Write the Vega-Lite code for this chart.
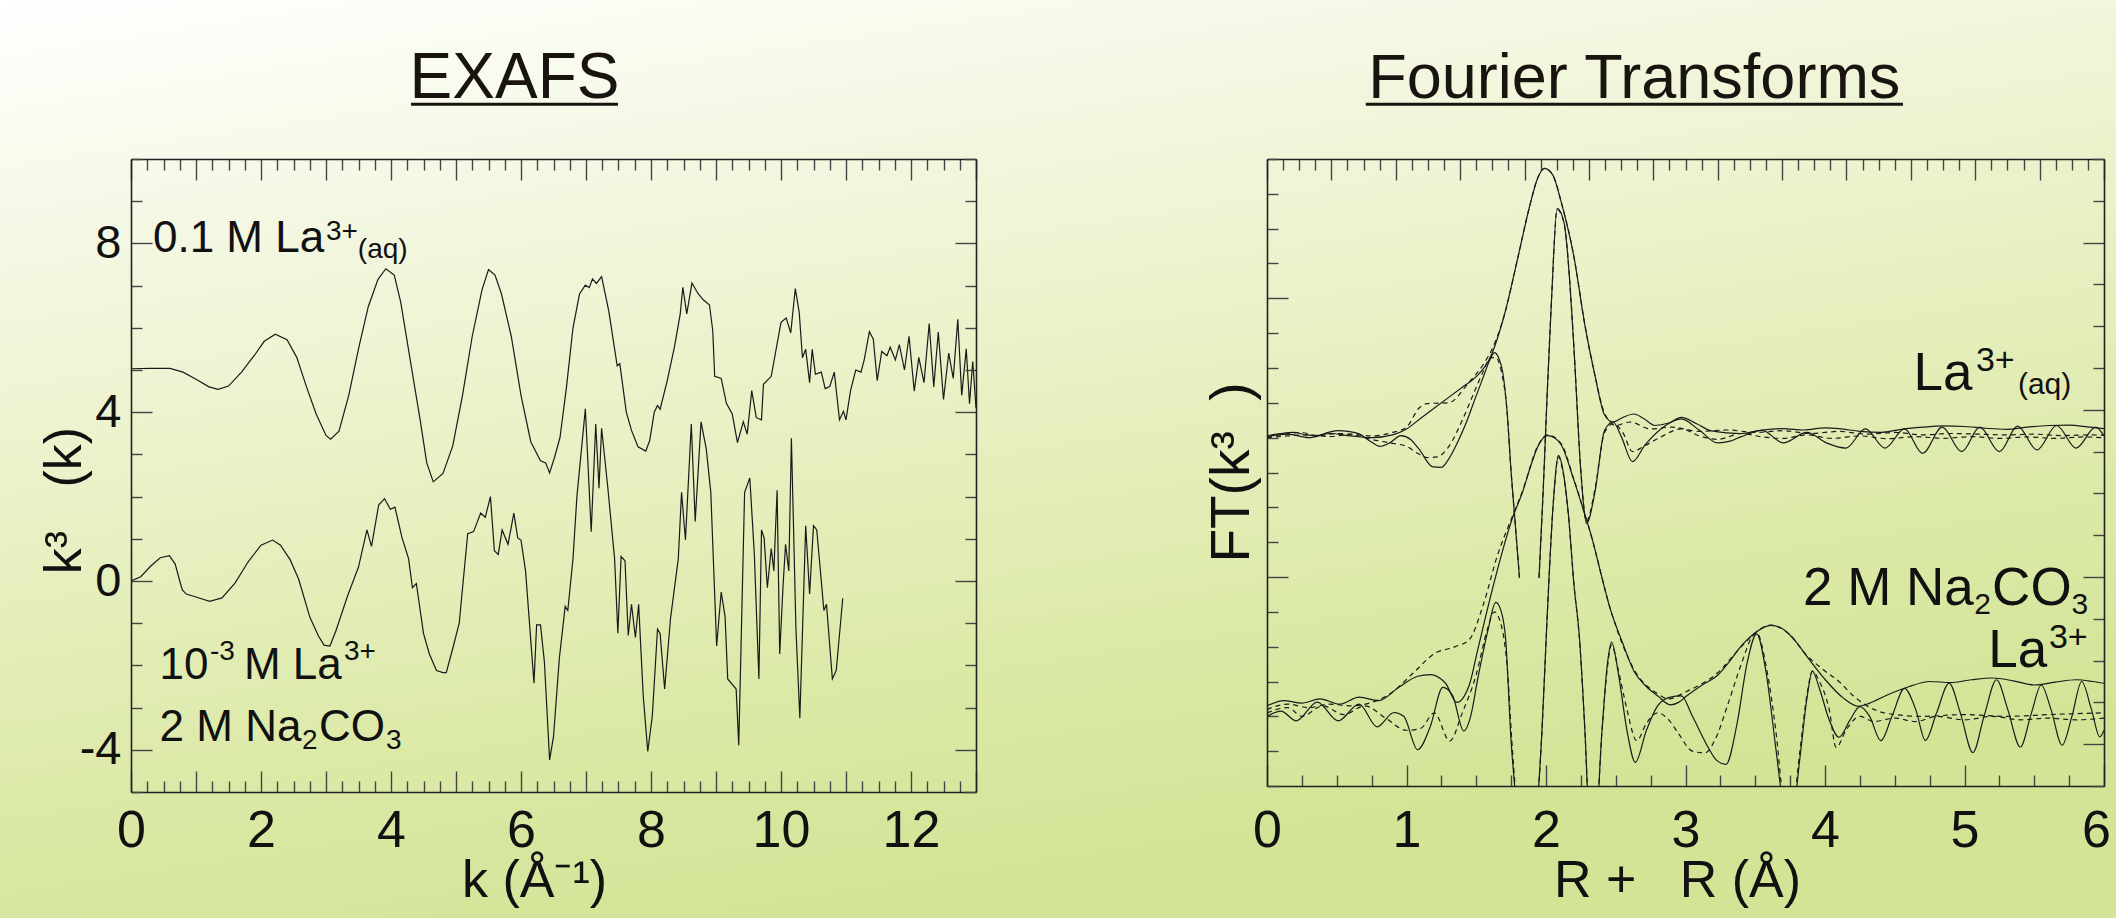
{
  "$schema": "https://vega.github.io/schema/vega-lite/v6.json",
  "padding": 0,
  "background": "#e8f0c4",
  "config": {
    "view": {"stroke": null},
    "axis": {"zindex": 2, "grid": false, "domainColor": "#222222", "domainWidth": 1.6, "tickColor": "#444444", "tickWidth": 1.4, "labelColor": "#111111", "titleColor": "#111111", "labelFont": "Liberation Sans", "titleFont": "Liberation Sans", "titleFontWeight": "normal", "labelOverlap": false, "labelFlush": false, "labelBound": false}
  },
  "datasets": {
    "xu": [
      {"k":0,"v":5.03},{"k":0.3,"v":5.04},{"k":0.6,"v":5.04},{"k":0.8,"v":4.95},{"k":1.0,"v":4.78},{"k":1.2,"v":4.6},{"k":1.34,"v":4.54},{"k":1.5,"v":4.62},{"k":1.7,"v":4.95},{"k":1.9,"v":5.35},{"k":2.05,"v":5.68},{"k":2.22,"v":5.85},{"k":2.4,"v":5.72},{"k":2.55,"v":5.3},{"k":2.7,"v":4.6},{"k":2.85,"v":3.95},{"k":3.0,"v":3.45},{"k":3.07,"v":3.36},{"k":3.2,"v":3.55},{"k":3.35,"v":4.4},{"k":3.5,"v":5.5},{"k":3.65,"v":6.5},{"k":3.8,"v":7.15},{"k":3.92,"v":7.4},{"k":4.05,"v":7.25},{"k":4.15,"v":6.6},{"k":4.3,"v":5.2},{"k":4.45,"v":3.8},{"k":4.55,"v":2.8},{"k":4.65,"v":2.35},{"k":4.8,"v":2.55},{"k":4.95,"v":3.2},{"k":5.1,"v":4.4},{"k":5.25,"v":5.8},{"k":5.4,"v":6.9},{"k":5.5,"v":7.38},{"k":5.6,"v":7.25},{"k":5.7,"v":6.8},{"k":5.85,"v":5.8},{"k":6.0,"v":4.4},{"k":6.15,"v":3.3},{"k":6.3,"v":2.85},{"k":6.38,"v":2.8},{"k":6.44,"v":2.56},{"k":6.52,"v":2.95},{"k":6.6,"v":3.4},{"k":6.7,"v":4.6},{"k":6.8,"v":6.0},{"k":6.9,"v":6.8},{"k":6.99,"v":7.01},{"k":7.05,"v":6.95},{"k":7.1,"v":7.16},{"k":7.16,"v":7.05},{"k":7.24,"v":7.21},{"k":7.35,"v":6.4},{"k":7.48,"v":5.1},{"k":7.52,"v":5.15},{"k":7.62,"v":4.0},{"k":7.7,"v":3.57},{"k":7.8,"v":3.18},{"k":7.92,"v":3.08},{"k":7.98,"v":3.33},{"k":8.05,"v":4.0},{"k":8.1,"v":4.16},{"k":8.14,"v":4.07},{"k":8.25,"v":4.75},{"k":8.36,"v":5.54},{"k":8.45,"v":6.33},{"k":8.49,"v":6.96},{"k":8.55,"v":6.33},{"k":8.63,"v":7.06},{"k":8.72,"v":6.82},{"k":8.8,"v":6.67},{"k":8.9,"v":6.54},{"k":8.95,"v":5.93},{"k":8.98,"v":4.85},{"k":9.08,"v":4.8},{"k":9.16,"v":4.21},{"k":9.25,"v":3.96},{"k":9.33,"v":3.28},{"k":9.42,"v":3.77},{"k":9.48,"v":3.48},{"k":9.55,"v":4.51},{"k":9.62,"v":3.87},{"k":9.7,"v":3.82},{"k":9.73,"v":4.66},{"k":9.85,"v":4.85},{"k":10.0,"v":6.13},{"k":10.08,"v":6.23},{"k":10.15,"v":5.88},{"k":10.22,"v":6.93},{"k":10.28,"v":6.37},{"k":10.33,"v":5.29},{"k":10.38,"v":5.49},{"k":10.44,"v":4.7},{"k":10.48,"v":5.49},{"k":10.53,"v":4.9},{"k":10.62,"v":4.95},{"k":10.68,"v":4.56},{"k":10.75,"v":4.61},{"k":10.82,"v":4.95},{"k":10.9,"v":3.82},{"k":10.96,"v":4.02},{"k":11.0,"v":3.82},{"k":11.07,"v":4.51},{"k":11.15,"v":5.0},{"k":11.23,"v":4.95},{"k":11.28,"v":5.24},{"k":11.36,"v":5.91},{"k":11.42,"v":5.73},{"k":11.48,"v":4.75},{"k":11.55,"v":5.44},{"k":11.63,"v":5.34},{"k":11.68,"v":5.54},{"k":11.76,"v":5.24},{"k":11.82,"v":5.6},{"k":11.9,"v":5.0},{"k":11.97,"v":5.8},{"k":12.05,"v":4.5},{"k":12.12,"v":5.3},{"k":12.2,"v":4.7},{"k":12.28,"v":6.1},{"k":12.35,"v":4.6},{"k":12.42,"v":5.9},{"k":12.5,"v":4.3},{"k":12.58,"v":5.4},{"k":12.65,"v":4.8},{"k":12.72,"v":6.2},{"k":12.78,"v":4.4},{"k":12.85,"v":5.5},{"k":12.9,"v":4.2},{"k":12.95,"v":5.2},{"k":13.0,"v":4.1}
    ],
    "xl": [
      {"k":0,"v":0},{"k":0.15,"v":0.1},{"k":0.3,"v":0.35},{"k":0.45,"v":0.55},{"k":0.59,"v":0.6},{"k":0.68,"v":0.4},{"k":0.75,"v":0.0},{"k":0.79,"v":-0.21},{"k":0.85,"v":-0.31},{"k":1.0,"v":-0.38},{"k":1.21,"v":-0.48},{"k":1.4,"v":-0.4},{"k":1.6,"v":-0.05},{"k":1.8,"v":0.45},{"k":2.0,"v":0.85},{"k":2.18,"v":0.97},{"k":2.3,"v":0.85},{"k":2.45,"v":0.5},{"k":2.58,"v":0.04},{"k":2.75,"v":-0.85},{"k":2.88,"v":-1.29},{"k":2.97,"v":-1.52},{"k":3.06,"v":-1.54},{"k":3.15,"v":-1.19},{"k":3.33,"v":-0.36},{"k":3.5,"v":0.33},{"k":3.63,"v":1.21},{"k":3.7,"v":0.82},{"k":3.81,"v":1.8},{"k":3.9,"v":1.95},{"k":3.99,"v":1.7},{"k":4.06,"v":1.75},{"k":4.17,"v":1.02},{"k":4.27,"v":0.53},{"k":4.33,"v":-0.16},{"k":4.39,"v":-0.06},{"k":4.5,"v":-1.24},{"k":4.59,"v":-1.73},{"k":4.7,"v":-2.12},{"k":4.8,"v":-2.17},{"k":4.85,"v":-2.17},{"k":4.96,"v":-1.54},{"k":5.05,"v":-0.99},{"k":5.18,"v":1.12},{"k":5.27,"v":1.17},{"k":5.38,"v":1.61},{"k":5.45,"v":1.51},{"k":5.53,"v":2.0},{"k":5.59,"v":0.72},{"k":5.65,"v":0.63},{"k":5.71,"v":1.21},{"k":5.8,"v":0.87},{"k":5.89,"v":1.61},{"k":5.95,"v":1.02},{"k":6.0,"v":0.97},{"k":6.07,"v":0.24},{"k":6.2,"v":-2.42},{"k":6.24,"v":-1.04},{"k":6.3,"v":-1.04},{"k":6.36,"v":-1.92},{"k":6.44,"v":-4.24},{"k":6.5,"v":-3.69},{"k":6.59,"v":-1.83},{"k":6.68,"v":-0.6},{"k":6.72,"v":-0.7},{"k":6.8,"v":0.53},{"k":6.86,"v":2.0},{"k":6.99,"v":4.08},{"k":7.08,"v":1.17},{"k":7.15,"v":3.72},{"k":7.2,"v":2.2},{"k":7.24,"v":3.62},{"k":7.33,"v":2.3},{"k":7.44,"v":0.53},{"k":7.49,"v":-1.24},{"k":7.54,"v":0.58},{"k":7.6,"v":0.48},{"k":7.65,"v":-1.29},{"k":7.7,"v":-0.55},{"k":7.76,"v":-1.34},{"k":7.81,"v":-0.55},{"k":7.88,"v":-2.71},{"k":7.95,"v":-4.04},{"k":8.02,"v":-3.2},{"k":8.1,"v":-1.14},{"k":8.14,"v":-1.24},{"k":8.21,"v":-2.56},{"k":8.3,"v":-0.89},{"k":8.42,"v":0.53},{"k":8.47,"v":2.1},{"k":8.53,"v":0.97},{"k":8.62,"v":3.72},{"k":8.68,"v":1.41},{"k":8.77,"v":3.77},{"k":8.85,"v":3.13},{"k":8.92,"v":2.1},{"k":9.01,"v":-1.54},{"k":9.08,"v":-0.26},{"k":9.14,"v":-0.85},{"k":9.18,"v":-2.32},{"k":9.31,"v":-2.56},{"k":9.35,"v":-3.89},{"k":9.44,"v":2.1},{"k":9.52,"v":2.44},{"k":9.59,"v":0.63},{"k":9.66,"v":-2.32},{"k":9.7,"v":1.21},{"k":9.74,"v":1.02},{"k":9.79,"v":-0.16},{"k":9.85,"v":0.77},{"k":9.89,"v":0.24},{"k":9.94,"v":2.15},{"k":9.98,"v":-1.73},{"k":10.03,"v":-0.16},{"k":10.07,"v":0.87},{"k":10.12,"v":0.24},{"k":10.16,"v":3.38},{"k":10.23,"v":-1.14},{"k":10.29,"v":-3.25},{"k":10.38,"v":1.31},{"k":10.44,"v":-0.31},{"k":10.5,"v":1.31},{"k":10.55,"v":1.21},{"k":10.66,"v":-0.7},{"k":10.7,"v":-0.55},{"k":10.79,"v":-2.32},{"k":10.85,"v":-2.12},{"k":10.95,"v":-0.41}
    ],
    "fus": [
      {"R":0,"y":10.03,"s":"m"},{"R":0.15,"y":10.1,"s":"m"},{"R":0.3,"y":10.0,"s":"m"},{"R":0.45,"y":10.12,"s":"m"},{"R":0.6,"y":10.05,"s":"m"},{"R":0.75,"y":10.0,"s":"m"},{"R":0.9,"y":10.08,"s":"m"},{"R":1.0,"y":10.25,"s":"m"},{"R":1.1,"y":10.55,"s":"m"},{"R":1.2,"y":10.85,"s":"m"},{"R":1.3,"y":11.15,"s":"m"},{"R":1.4,"y":11.45,"s":"m"},{"R":1.5,"y":11.75,"s":"m"},{"R":1.6,"y":12.3,"s":"m"},{"R":1.7,"y":13.5,"s":"m"},{"R":1.8,"y":15.2,"s":"m"},{"R":1.88,"y":16.6,"s":"m"},{"R":1.94,"y":17.45,"s":"m"},{"R":1.99,"y":17.73,"s":"m"},{"R":2.05,"y":17.53,"s":"m"},{"R":2.11,"y":16.75,"s":"m"},{"R":2.2,"y":15.2,"s":"m"},{"R":2.28,"y":13.2,"s":"m"},{"R":2.35,"y":11.8,"s":"m"},{"R":2.42,"y":10.65,"s":"m"},{"R":2.48,"y":10.45,"s":"m"},{"R":2.55,"y":10.58,"s":"m"},{"R":2.63,"y":10.68,"s":"m"},{"R":2.7,"y":10.55,"s":"m"},{"R":2.78,"y":10.35,"s":"m"},{"R":2.88,"y":10.42,"s":"m"},{"R":2.97,"y":10.58,"s":"m"},{"R":3.08,"y":10.4,"s":"m"},{"R":3.18,"y":10.2,"s":"m"},{"R":3.3,"y":10.14,"s":"m"},{"R":3.4,"y":10.12,"s":"m"},{"R":3.55,"y":10.22,"s":"m"},{"R":3.7,"y":10.26,"s":"m"},{"R":3.85,"y":10.22,"s":"m"},{"R":4.0,"y":10.28,"s":"m"},{"R":4.1,"y":10.26,"s":"m"},{"R":4.25,"y":10.18,"s":"m"},{"R":4.4,"y":10.15,"s":"m"},{"R":4.55,"y":10.24,"s":"m"},{"R":4.7,"y":10.3,"s":"m"},{"R":4.85,"y":10.34,"s":"m"},{"R":5.0,"y":10.32,"s":"m"},{"R":5.15,"y":10.27,"s":"m"},{"R":5.3,"y":10.24,"s":"m"},{"R":5.45,"y":10.3,"s":"m"},{"R":5.6,"y":10.35,"s":"m"},{"R":5.75,"y":10.36,"s":"m"},{"R":5.9,"y":10.3,"s":"m"},{"R":6.0,"y":10.26,"s":"m"},
      {"R":0,"y":10.06,"s":"ia"},{"R":0.1,"y":10.12,"s":"ia"},{"R":0.19,"y":10.15,"s":"ia"},{"R":0.28,"y":10.08,"s":"ia"},{"R":0.36,"y":10.06,"s":"ia"},{"R":0.44,"y":10.15,"s":"ia"},{"R":0.51,"y":10.2,"s":"ia"},{"R":0.58,"y":10.18,"s":"ia"},{"R":0.66,"y":10.11,"s":"ia"},{"R":0.74,"y":9.9,"s":"ia"},{"R":0.81,"y":9.75,"s":"ia"},{"R":0.88,"y":9.85,"s":"ia"},{"R":0.96,"y":10.06,"s":"ia"},{"R":1.03,"y":9.95,"s":"ia"},{"R":1.09,"y":9.67,"s":"ia"},{"R":1.19,"y":9.16,"s":"ia"},{"R":1.25,"y":9.15,"s":"ia"},{"R":1.3,"y":9.37,"s":"ia"},{"R":1.37,"y":9.9,"s":"ia"},{"R":1.43,"y":10.45,"s":"ia"},{"R":1.49,"y":11.1,"s":"ia"},{"R":1.54,"y":11.63,"s":"ia"},{"R":1.6,"y":12.25,"s":"ia"},{"R":1.63,"y":12.44,"s":"ia"},{"R":1.66,"y":12.3,"s":"ia"},{"R":1.69,"y":11.87,"s":"ia"},{"R":1.72,"y":10.8,"s":"ia"},{"R":1.75,"y":9.01,"s":"ia"},{"R":1.78,"y":7.5,"s":"ia"},{"R":1.81,"y":5.98,"s":"ia"},
      {"R":1.95,"y":5.98,"s":"ib"},{"R":1.98,"y":8.5,"s":"ib"},{"R":2.01,"y":11.4,"s":"ib"},{"R":2.04,"y":14.0,"s":"ib"},{"R":2.08,"y":16.58,"s":"ib"},{"R":2.13,"y":16.16,"s":"ib"},{"R":2.17,"y":14.5,"s":"ib"},{"R":2.2,"y":12.59,"s":"ib"},{"R":2.25,"y":9.01,"s":"ib"},{"R":2.29,"y":7.53,"s":"ib"},{"R":2.35,"y":8.42,"s":"ib"},{"R":2.42,"y":10.21,"s":"ib"},{"R":2.48,"y":10.45,"s":"ib"},{"R":2.54,"y":10.03,"s":"ib"},{"R":2.62,"y":9.31,"s":"ib"},{"R":2.71,"y":9.79,"s":"ib"},{"R":2.85,"y":10.33,"s":"ib"},{"R":2.97,"y":10.54,"s":"ib"},{"R":3.1,"y":10.21,"s":"ib"},{"R":3.23,"y":9.85,"s":"ib"},{"R":3.32,"y":9.9,"s":"ib"},{"R":3.4,"y":10.03,"s":"ib"},{"R":3.55,"y":10.21,"s":"ib"},{"R":3.7,"y":9.85,"s":"ib"},{"R":3.87,"y":10.15,"s":"ib"},{"R":4.01,"y":9.85,"s":"ib"},{"R":4.15,"y":9.7,"s":"ib"},{"R":4.29,"y":10.25,"s":"ib"},{"R":4.43,"y":9.7,"s":"ib"},{"R":4.57,"y":10.25,"s":"ib"},{"R":4.7,"y":9.55,"s":"ib"},{"R":4.84,"y":10.3,"s":"ib"},{"R":4.98,"y":9.6,"s":"ib"},{"R":5.11,"y":10.3,"s":"ib"},{"R":5.25,"y":9.6,"s":"ib"},{"R":5.38,"y":10.33,"s":"ib"},{"R":5.52,"y":9.65,"s":"ib"},{"R":5.66,"y":10.35,"s":"ib"},{"R":5.8,"y":9.7,"s":"ib"},{"R":5.94,"y":10.3,"s":"ib"},{"R":6.0,"y":10.05,"s":"ib"}
    ],
    "fud": [
      {"R":0,"y":10.0,"s":"mf"},{"R":0.15,"y":10.05,"s":"mf"},{"R":0.3,"y":10.08,"s":"mf"},{"R":0.45,"y":10.03,"s":"mf"},{"R":0.6,"y":10.1,"s":"mf"},{"R":0.75,"y":10.05,"s":"mf"},{"R":0.9,"y":10.15,"s":"mf"},{"R":1.0,"y":10.3,"s":"mf"},{"R":1.09,"y":10.85,"s":"mf"},{"R":1.15,"y":10.98,"s":"mf"},{"R":1.3,"y":11.0,"s":"mf"},{"R":1.45,"y":11.6,"s":"mf"},{"R":1.55,"y":12.1,"s":"mf"},{"R":1.62,"y":12.6,"s":"mf"},{"R":1.7,"y":13.5,"s":"mf"},{"R":1.8,"y":15.2,"s":"mf"},{"R":1.88,"y":16.6,"s":"mf"},{"R":1.94,"y":17.45,"s":"mf"},{"R":1.99,"y":17.73,"s":"mf"},{"R":2.05,"y":17.53,"s":"mf"},{"R":2.11,"y":16.75,"s":"mf"},{"R":2.2,"y":15.2,"s":"mf"},{"R":2.28,"y":13.2,"s":"mf"},{"R":2.35,"y":11.8,"s":"mf"},{"R":2.42,"y":10.7,"s":"mf"},{"R":2.5,"y":10.35,"s":"mf"},{"R":2.6,"y":10.45,"s":"mf"},{"R":2.75,"y":10.25,"s":"mf"},{"R":2.9,"y":10.3,"s":"mf"},{"R":3.1,"y":10.18,"s":"mf"},{"R":3.3,"y":10.22,"s":"mf"},{"R":3.5,"y":10.15,"s":"mf"},{"R":3.7,"y":10.2,"s":"mf"},{"R":3.9,"y":10.12,"s":"mf"},{"R":4.1,"y":10.18,"s":"mf"},{"R":4.3,"y":10.1,"s":"mf"},{"R":4.5,"y":10.15,"s":"mf"},{"R":4.7,"y":10.08,"s":"mf"},{"R":4.9,"y":10.12,"s":"mf"},{"R":5.1,"y":10.1,"s":"mf"},{"R":5.3,"y":10.08,"s":"mf"},{"R":5.5,"y":10.1,"s":"mf"},{"R":5.7,"y":10.06,"s":"mf"},{"R":5.9,"y":10.08,"s":"mf"},{"R":6.0,"y":10.07,"s":"mf"},
      {"R":0,"y":10.02,"s":"fa"},{"R":0.12,"y":10.1,"s":"fa"},{"R":0.25,"y":10.15,"s":"fa"},{"R":0.35,"y":10.05,"s":"fa"},{"R":0.5,"y":10.12,"s":"fa"},{"R":0.62,"y":10.08,"s":"fa"},{"R":0.75,"y":9.95,"s":"fa"},{"R":0.88,"y":9.85,"s":"fa"},{"R":1.0,"y":9.75,"s":"fa"},{"R":1.08,"y":9.55,"s":"fa"},{"R":1.15,"y":9.43,"s":"fa"},{"R":1.22,"y":9.45,"s":"fa"},{"R":1.3,"y":9.73,"s":"fa"},{"R":1.4,"y":10.5,"s":"fa"},{"R":1.47,"y":11.16,"s":"fa"},{"R":1.55,"y":11.9,"s":"fa"},{"R":1.6,"y":12.29,"s":"fa"},{"R":1.64,"y":12.3,"s":"fa"},{"R":1.68,"y":11.9,"s":"fa"},{"R":1.72,"y":10.8,"s":"fa"},{"R":1.75,"y":9.01,"s":"fa"},{"R":1.78,"y":7.5,"s":"fa"},{"R":1.81,"y":5.98,"s":"fa"},
      {"R":1.95,"y":5.98,"s":"fb"},{"R":1.98,"y":8.5,"s":"fb"},{"R":2.01,"y":11.4,"s":"fb"},{"R":2.04,"y":14.0,"s":"fb"},{"R":2.08,"y":16.55,"s":"fb"},{"R":2.13,"y":16.15,"s":"fb"},{"R":2.17,"y":14.5,"s":"fb"},{"R":2.2,"y":12.6,"s":"fb"},{"R":2.25,"y":9.05,"s":"fb"},{"R":2.29,"y":7.6,"s":"fb"},{"R":2.35,"y":8.5,"s":"fb"},{"R":2.42,"y":10.15,"s":"fb"},{"R":2.48,"y":10.4,"s":"fb"},{"R":2.55,"y":10.15,"s":"fb"},{"R":2.62,"y":9.6,"s":"fb"},{"R":2.7,"y":9.75,"s":"fb"},{"R":2.8,"y":9.97,"s":"fb"},{"R":2.97,"y":10.25,"s":"fb"},{"R":3.1,"y":10.05,"s":"fb"},{"R":3.23,"y":9.95,"s":"fb"},{"R":3.4,"y":10.12,"s":"fb"},{"R":3.55,"y":10.02,"s":"fb"},{"R":3.7,"y":9.98,"s":"fb"},{"R":3.87,"y":10.08,"s":"fb"},{"R":4.05,"y":9.98,"s":"fb"},{"R":4.25,"y":10.05,"s":"fb"},{"R":4.45,"y":9.97,"s":"fb"},{"R":4.65,"y":10.03,"s":"fb"},{"R":4.85,"y":9.98,"s":"fb"},{"R":5.05,"y":10.03,"s":"fb"},{"R":5.25,"y":9.98,"s":"fb"},{"R":5.45,"y":10.02,"s":"fb"},{"R":5.65,"y":9.98,"s":"fb"},{"R":5.85,"y":10.02,"s":"fb"},{"R":6.0,"y":10.0,"s":"fb"}
    ],
    "fls": [
      {"R":0,"y":2.3,"s":"m"},{"R":0.12,"y":2.45,"s":"m"},{"R":0.25,"y":2.38,"s":"m"},{"R":0.38,"y":2.5,"s":"m"},{"R":0.52,"y":2.35,"s":"m"},{"R":0.66,"y":2.55,"s":"m"},{"R":0.8,"y":2.45,"s":"m"},{"R":0.95,"y":2.85,"s":"m"},{"R":1.08,"y":3.15,"s":"m"},{"R":1.17,"y":3.2,"s":"m"},{"R":1.28,"y":2.95,"s":"m"},{"R":1.36,"y":2.4,"s":"m"},{"R":1.45,"y":2.9,"s":"m"},{"R":1.51,"y":3.9,"s":"m"},{"R":1.6,"y":5.4,"s":"m"},{"R":1.68,"y":6.63,"s":"m"},{"R":1.76,"y":7.7,"s":"m"},{"R":1.83,"y":8.42,"s":"m"},{"R":1.9,"y":9.3,"s":"m"},{"R":1.94,"y":9.73,"s":"m"},{"R":2.01,"y":10.06,"s":"m"},{"R":2.06,"y":10.0,"s":"m"},{"R":2.11,"y":9.79,"s":"m"},{"R":2.2,"y":8.78,"s":"m"},{"R":2.27,"y":7.9,"s":"m"},{"R":2.33,"y":7.11,"s":"m"},{"R":2.4,"y":6.0,"s":"m"},{"R":2.46,"y":5.09,"s":"m"},{"R":2.55,"y":4.1,"s":"m"},{"R":2.63,"y":3.3,"s":"m"},{"R":2.72,"y":2.85,"s":"m"},{"R":2.8,"y":2.59,"s":"m"},{"R":2.89,"y":2.33,"s":"m"},{"R":2.95,"y":2.4,"s":"m"},{"R":3.01,"y":2.59,"s":"m"},{"R":3.12,"y":2.9,"s":"m"},{"R":3.23,"y":3.18,"s":"m"},{"R":3.32,"y":3.6,"s":"m"},{"R":3.4,"y":4.02,"s":"m"},{"R":3.51,"y":4.43,"s":"m"},{"R":3.61,"y":4.61,"s":"m"},{"R":3.68,"y":4.55,"s":"m"},{"R":3.74,"y":4.37,"s":"m"},{"R":3.8,"y":4.1,"s":"m"},{"R":3.87,"y":3.72,"s":"m"},{"R":4.0,"y":3.06,"s":"m"},{"R":4.13,"y":2.53,"s":"m"},{"R":4.24,"y":2.29,"s":"m"},{"R":4.32,"y":2.38,"s":"m"},{"R":4.45,"y":2.62,"s":"m"},{"R":4.6,"y":2.85,"s":"m"},{"R":4.75,"y":3.0,"s":"m"},{"R":4.9,"y":2.97,"s":"m"},{"R":5.05,"y":3.05,"s":"m"},{"R":5.2,"y":3.1,"s":"m"},{"R":5.35,"y":3.02,"s":"m"},{"R":5.5,"y":2.9,"s":"m"},{"R":5.65,"y":2.98,"s":"m"},{"R":5.8,"y":3.05,"s":"m"},{"R":5.92,"y":3.0,"s":"m"},{"R":6.0,"y":2.95,"s":"m"},
      {"R":0,"y":2.0,"s":"i"},{"R":0.1,"y":2.15,"s":"i"},{"R":0.21,"y":1.87,"s":"i"},{"R":0.36,"y":2.41,"s":"i"},{"R":0.51,"y":1.87,"s":"i"},{"R":0.66,"y":2.35,"s":"i"},{"R":0.79,"y":1.7,"s":"i"},{"R":0.91,"y":2.11,"s":"i"},{"R":0.98,"y":2.0,"s":"i"},{"R":1.08,"y":1.04,"s":"i"},{"R":1.17,"y":1.7,"s":"i"},{"R":1.26,"y":2.83,"s":"i"},{"R":1.33,"y":2.6,"s":"i"},{"R":1.41,"y":1.58,"s":"i"},{"R":1.46,"y":2.0,"s":"i"},{"R":1.51,"y":3.06,"s":"i"},{"R":1.58,"y":4.4,"s":"i"},{"R":1.64,"y":5.27,"s":"i"},{"R":1.68,"y":5.0,"s":"i"},{"R":1.71,"y":4.25,"s":"i"},{"R":1.75,"y":1.28,"s":"i"},{"R":1.8,"y":-1.0,"s":"i"},{"R":1.86,"y":-3.0,"s":"i"},{"R":1.93,"y":-1.0,"s":"i"},{"R":1.97,"y":1.5,"s":"i"},{"R":2.01,"y":5.0,"s":"i"},{"R":2.05,"y":8.0,"s":"i"},{"R":2.09,"y":9.49,"s":"i"},{"R":2.12,"y":9.1,"s":"i"},{"R":2.16,"y":7.82,"s":"i"},{"R":2.2,"y":5.8,"s":"i"},{"R":2.24,"y":4.25,"s":"i"},{"R":2.28,"y":1.5,"s":"i"},{"R":2.31,"y":-1.0,"s":"i"},{"R":2.35,"y":-1.5,"s":"i"},{"R":2.4,"y":1.5,"s":"i"},{"R":2.44,"y":3.5,"s":"i"},{"R":2.47,"y":4.13,"s":"i"},{"R":2.52,"y":3.2,"s":"i"},{"R":2.58,"y":1.6,"s":"i"},{"R":2.64,"y":0.68,"s":"i"},{"R":2.72,"y":1.6,"s":"i"},{"R":2.8,"y":2.3,"s":"i"},{"R":2.89,"y":2.55,"s":"i"},{"R":2.97,"y":2.59,"s":"i"},{"R":3.05,"y":2.0,"s":"i"},{"R":3.15,"y":1.2,"s":"i"},{"R":3.22,"y":0.75,"s":"i"},{"R":3.29,"y":0.62,"s":"i"},{"R":3.37,"y":1.8,"s":"i"},{"R":3.44,"y":3.5,"s":"i"},{"R":3.51,"y":4.37,"s":"i"},{"R":3.58,"y":3.2,"s":"i"},{"R":3.65,"y":1.0,"s":"i"},{"R":3.7,"y":-0.5,"s":"i"},{"R":3.76,"y":-1.0,"s":"i"},{"R":3.82,"y":0.8,"s":"i"},{"R":3.87,"y":2.5,"s":"i"},{"R":3.91,"y":3.3,"s":"i"},{"R":3.96,"y":2.8,"s":"i"},{"R":4.03,"y":1.9,"s":"i"},{"R":4.1,"y":1.4,"s":"i"},{"R":4.18,"y":1.9,"s":"i"},{"R":4.25,"y":2.28,"s":"i"},{"R":4.32,"y":2.0,"s":"i"},{"R":4.4,"y":1.3,"s":"i"},{"R":4.48,"y":2.0,"s":"i"},{"R":4.57,"y":2.8,"s":"i"},{"R":4.65,"y":2.2,"s":"i"},{"R":4.72,"y":1.31,"s":"i"},{"R":4.8,"y":2.1,"s":"i"},{"R":4.89,"y":2.95,"s":"i"},{"R":4.97,"y":2.1,"s":"i"},{"R":5.06,"y":0.96,"s":"i"},{"R":5.14,"y":2.0,"s":"i"},{"R":5.23,"y":3.05,"s":"i"},{"R":5.31,"y":2.2,"s":"i"},{"R":5.4,"y":1.12,"s":"i"},{"R":5.48,"y":2.1,"s":"i"},{"R":5.55,"y":2.9,"s":"i"},{"R":5.62,"y":2.2,"s":"i"},{"R":5.7,"y":1.17,"s":"i"},{"R":5.77,"y":2.0,"s":"i"},{"R":5.84,"y":3.0,"s":"i"},{"R":5.91,"y":2.2,"s":"i"},{"R":5.97,"y":1.41,"s":"i"},{"R":6.0,"y":1.6,"s":"i"}
    ],
    "fld": [
      {"R":0,"y":2.2,"s":"mf"},{"R":0.15,"y":2.35,"s":"mf"},{"R":0.3,"y":2.25,"s":"mf"},{"R":0.45,"y":2.35,"s":"mf"},{"R":0.6,"y":2.3,"s":"mf"},{"R":0.75,"y":2.4,"s":"mf"},{"R":0.9,"y":2.7,"s":"mf"},{"R":1.05,"y":3.25,"s":"mf"},{"R":1.2,"y":3.8,"s":"mf"},{"R":1.35,"y":4.0,"s":"mf"},{"R":1.45,"y":4.2,"s":"mf"},{"R":1.55,"y":5.2,"s":"mf"},{"R":1.65,"y":6.6,"s":"mf"},{"R":1.76,"y":7.75,"s":"mf"},{"R":1.83,"y":8.45,"s":"mf"},{"R":1.94,"y":9.75,"s":"mf"},{"R":2.01,"y":10.08,"s":"mf"},{"R":2.11,"y":9.82,"s":"mf"},{"R":2.2,"y":8.8,"s":"mf"},{"R":2.33,"y":7.1,"s":"mf"},{"R":2.46,"y":5.1,"s":"mf"},{"R":2.63,"y":3.35,"s":"mf"},{"R":2.8,"y":2.65,"s":"mf"},{"R":2.88,"y":2.5,"s":"mf"},{"R":3.0,"y":2.7,"s":"mf"},{"R":3.23,"y":3.25,"s":"mf"},{"R":3.4,"y":4.0,"s":"mf"},{"R":3.51,"y":4.43,"s":"mf"},{"R":3.61,"y":4.62,"s":"mf"},{"R":3.74,"y":4.37,"s":"mf"},{"R":3.87,"y":3.75,"s":"mf"},{"R":4.0,"y":3.3,"s":"mf"},{"R":4.1,"y":3.0,"s":"mf"},{"R":4.2,"y":2.6,"s":"mf"},{"R":4.35,"y":2.2,"s":"mf"},{"R":4.5,"y":2.05,"s":"mf"},{"R":4.7,"y":2.0,"s":"mf"},{"R":5.0,"y":2.05,"s":"mf"},{"R":5.3,"y":2.0,"s":"mf"},{"R":5.6,"y":2.05,"s":"mf"},{"R":6.0,"y":2.1,"s":"mf"},
      {"R":0,"y":2.1,"s":"if"},{"R":0.15,"y":2.25,"s":"if"},{"R":0.25,"y":2.0,"s":"if"},{"R":0.4,"y":2.3,"s":"if"},{"R":0.55,"y":2.05,"s":"if"},{"R":0.7,"y":2.3,"s":"if"},{"R":0.85,"y":1.95,"s":"if"},{"R":1.0,"y":1.6,"s":"if"},{"R":1.1,"y":1.65,"s":"if"},{"R":1.2,"y":2.1,"s":"if"},{"R":1.31,"y":1.29,"s":"if"},{"R":1.4,"y":2.1,"s":"if"},{"R":1.5,"y":3.2,"s":"if"},{"R":1.58,"y":4.5,"s":"if"},{"R":1.63,"y":5.0,"s":"if"},{"R":1.68,"y":4.6,"s":"if"},{"R":1.72,"y":3.5,"s":"if"},{"R":1.76,"y":1.0,"s":"if"},{"R":1.8,"y":-1.0,"s":"if"},{"R":1.86,"y":-3.0,"s":"if"},{"R":1.93,"y":-1.0,"s":"if"},{"R":1.97,"y":1.5,"s":"if"},{"R":2.01,"y":5.0,"s":"if"},{"R":2.05,"y":8.0,"s":"if"},{"R":2.09,"y":9.45,"s":"if"},{"R":2.12,"y":9.05,"s":"if"},{"R":2.16,"y":7.8,"s":"if"},{"R":2.2,"y":5.8,"s":"if"},{"R":2.24,"y":4.2,"s":"if"},{"R":2.28,"y":1.5,"s":"if"},{"R":2.31,"y":-1.0,"s":"if"},{"R":2.35,"y":-1.5,"s":"if"},{"R":2.4,"y":1.5,"s":"if"},{"R":2.44,"y":3.4,"s":"if"},{"R":2.47,"y":4.05,"s":"if"},{"R":2.52,"y":3.3,"s":"if"},{"R":2.58,"y":2.2,"s":"if"},{"R":2.65,"y":1.3,"s":"if"},{"R":2.72,"y":1.8,"s":"if"},{"R":2.8,"y":2.1,"s":"if"},{"R":2.88,"y":1.9,"s":"if"},{"R":2.95,"y":1.5,"s":"if"},{"R":3.05,"y":1.0,"s":"if"},{"R":3.14,"y":0.95,"s":"if"},{"R":3.22,"y":1.4,"s":"if"},{"R":3.3,"y":2.3,"s":"if"},{"R":3.4,"y":3.5,"s":"if"},{"R":3.48,"y":4.3,"s":"if"},{"R":3.51,"y":4.4,"s":"if"},{"R":3.58,"y":3.4,"s":"if"},{"R":3.65,"y":1.5,"s":"if"},{"R":3.7,"y":-0.3,"s":"if"},{"R":3.76,"y":-0.8,"s":"if"},{"R":3.82,"y":1.0,"s":"if"},{"R":3.87,"y":2.6,"s":"if"},{"R":3.91,"y":3.3,"s":"if"},{"R":3.96,"y":3.0,"s":"if"},{"R":4.03,"y":2.2,"s":"if"},{"R":4.08,"y":1.1,"s":"if"},{"R":4.15,"y":1.6,"s":"if"},{"R":4.25,"y":2.0,"s":"if"},{"R":4.35,"y":1.85,"s":"if"},{"R":4.5,"y":1.95,"s":"if"},{"R":4.65,"y":1.85,"s":"if"},{"R":4.8,"y":2.0,"s":"if"},{"R":5.0,"y":1.9,"s":"if"},{"R":5.2,"y":2.0,"s":"if"},{"R":5.4,"y":1.9,"s":"if"},{"R":5.6,"y":1.95,"s":"if"},{"R":5.8,"y":1.9,"s":"if"},{"R":6.0,"y":1.95,"s":"if"}
    ],
    "la_big": [{"t":"0.1 M La","x":0.338,"y":7.79},{"t":"10","x":0.44,"y":-2.32},{"t":"M La","x":1.738,"y":-2.32},{"t":"2 M Na","x":0.44,"y":-3.79},{"t":"CO","x":2.892,"y":-3.79}],
    "la_small": [{"t":"3+","x":3.0,"y":8.08},{"t":"(aq)","x":3.49,"y":7.65},{"t":"-3","x":1.215,"y":-1.87},{"t":"3+","x":3.277,"y":-1.87},{"t":"2","x":2.63,"y":-3.99},{"t":"3","x":3.923,"y":-3.99}],
    "ra_big": [{"t":"La","x":4.635,"y":11.36},{"t":"2 M Na","x":3.842,"y":5.2},{"t":"CO","x":5.198,"y":5.2},{"t":"La","x":5.17,"y":3.42}],
    "ra_sup": [{"t":"3+","x":5.082,"y":11.91},{"t":"3+","x":5.605,"y":3.96}],
    "ra_small": [{"t":"(aq)","x":5.383,"y":11.25},{"t":"2","x":5.069,"y":4.93},{"t":"3","x":5.767,"y":4.93}]
  },
  "hconcat": [
    {
      "width": 845,
      "height": 633,
      "resolve": {"axis": {"x": "independent", "y": "independent"}},
      "layer": [
        {
          "data": {"values": [{}]},
          "mark": {"type": "rect", "fill": {"gradient": "linear", "x1": 0, "y1": 0, "x2": 0.35, "y2": 1, "stops": [{"offset": 0, "color": "#ffffff"}, {"offset": 0.3, "color": "#f2f6dd"}, {"offset": 0.55, "color": "#e7f0c1"}, {"offset": 0.8, "color": "#dbe9a6"}, {"offset": 1, "color": "#d3e497"}]}, "strokeWidth": 0},
          "encoding": {
            "x": {"datum": -2.0153, "type": "quantitative", "scale": {"domain": [0, 13], "nice": false, "zero": false}, "axis": null},
            "x2": {"datum": 30.5384},
            "y": {"datum": 13.7677, "type": "quantitative", "scale": {"domain": [-5, 10], "nice": false, "zero": false}, "axis": null},
            "y2": {"datum": -7.9857}
          }
        },
        {
          "data": {"name": "xu"},
          "mark": {"type": "line", "color": "#1a1a1a", "strokeWidth": 1.2, "clip": true},
          "encoding": {
            "x": {"field": "k", "type": "quantitative", "scale": {"domain": [0, 13], "nice": false, "zero": false},
              "axis": {"orient": "bottom", "zindex": 2, "values": [0,0.25,0.5,0.75,1,1.25,1.5,1.75,2,2.25,2.5,2.75,3,3.25,3.5,3.75,4,4.25,4.5,4.75,5,5.25,5.5,5.75,6,6.25,6.5,6.75,7,7.25,7.5,7.75,8,8.25,8.5,8.75,9,9.25,9.5,9.75,10,10.25,10.5,10.75,11,11.25,11.5,11.75,12,12.25,12.5,12.75,13],
                "tickSize": {"condition": {"test": "datum.value % 1 === 0", "value": -21}, "value": -11},
                "labelExpr": "datum.value % 2 === 0 ? format(datum.value, 'd') : ''", "labelFontSize": 52, "labelBaseline": "alphabetic", "labelPadding": 75,
                "title": "k (Å⁻¹)", "titleFontSize": 52, "titleX": 403, "titleY": 104, "titleAlign": "center", "titleBaseline": "alphabetic"}},
            "y": {"field": "v", "type": "quantitative", "scale": {"domain": [-5, 10], "nice": false, "zero": false},
              "axis": {"orient": "left", "zindex": 2, "values": [-5,-4,-3,-2,-1,0,1,2,3,4,5,6,7,8,9,10],
                "tickSize": {"condition": {"test": "datum.value % 4 === 0", "value": -21}, "value": -11},
                "labelExpr": "datum.value % 4 === 0 ? (datum.value < 0 ? '-' + (-datum.value) : '' + datum.value) : ''", "labelFontSize": 47, "labelPadding": 31,
                "title": "k³\u00a0\u00a0\u00a0(k)", "titleFontSize": 52, "titleX": -51, "titleY": 341, "titleAngle": -90, "titleAlign": "center", "titleBaseline": "alphabetic"}}
          }
        },
        {
          "data": {"name": "xl"},
          "mark": {"type": "line", "color": "#1a1a1a", "strokeWidth": 1.2, "clip": true},
          "encoding": {
            "x": {"field": "k", "type": "quantitative", "scale": {"domain": [0, 13], "nice": false, "zero": false},
              "axis": {"orient": "top", "zindex": 2, "values": [0,0.25,0.5,0.75,1,1.25,1.5,1.75,2,2.25,2.5,2.75,3,3.25,3.5,3.75,4,4.25,4.5,4.75,5,5.25,5.5,5.75,6,6.25,6.5,6.75,7,7.25,7.5,7.75,8,8.25,8.5,8.75,9,9.25,9.5,9.75,10,10.25,10.5,10.75,11,11.25,11.5,11.75,12,12.25,12.5,12.75,13],
                "tickSize": {"condition": {"test": "datum.value % 1 === 0", "value": -21}, "value": -11}, "labels": false, "title": null}},
            "y": {"field": "v", "type": "quantitative", "scale": {"domain": [-5, 10], "nice": false, "zero": false},
              "axis": {"orient": "right", "zindex": 2, "values": [-5,-4,-3,-2,-1,0,1,2,3,4,5,6,7,8,9,10],
                "tickSize": {"condition": {"test": "datum.value % 4 === 0", "value": -21}, "value": -11}, "labels": false, "title": null}}
          }
        },
        {
          "data": {"name": "la_big"},
          "mark": {"type": "text", "align": "left", "baseline": "alphabetic", "fontSize": 44, "font": "Liberation Sans", "color": "#111111"},
          "encoding": {
            "x": {"field": "x", "type": "quantitative", "scale": {"domain": [0, 13], "nice": false, "zero": false}, "axis": null},
            "y": {"field": "y", "type": "quantitative", "scale": {"domain": [-5, 10], "nice": false, "zero": false}, "axis": null},
            "text": {"field": "t"}
          }
        },
        {
          "data": {"name": "la_small"},
          "mark": {"type": "text", "align": "left", "baseline": "alphabetic", "fontSize": 28, "font": "Liberation Sans", "color": "#111111"},
          "encoding": {
            "x": {"field": "x", "type": "quantitative", "scale": {"domain": [0, 13], "nice": false, "zero": false}, "axis": null},
            "y": {"field": "y", "type": "quantitative", "scale": {"domain": [-5, 10], "nice": false, "zero": false}, "axis": null},
            "text": {"field": "t"}
          }
        },
        {
          "data": {"values": [{"t": "EXAFS"}]},
          "mark": {"type": "text", "align": "center", "baseline": "alphabetic", "fontSize": 64, "font": "Liberation Sans", "color": "#1a1410"},
          "encoding": {
            "x": {"datum": 5.9, "type": "quantitative", "scale": {"domain": [0, 13], "nice": false, "zero": false}, "axis": null},
            "y": {"datum": 11.453, "type": "quantitative", "scale": {"domain": [-5, 10], "nice": false, "zero": false}, "axis": null},
            "text": {"field": "t"}
          }
        },
        {
          "data": {"values": [{}]},
          "mark": {"type": "rule", "color": "#1a1410", "strokeWidth": 3},
          "encoding": {
            "x": {"datum": 4.308, "type": "quantitative", "scale": {"domain": [0, 13], "nice": false, "zero": false}, "axis": null},
            "x2": {"datum": 7.492},
            "y": {"datum": 11.296, "type": "quantitative", "scale": {"domain": [-5, 10], "nice": false, "zero": false}, "axis": null}
          }
        }
      ]
    },
    {
      "width": 837,
      "height": 627,
      "resolve": {"axis": {"x": "independent", "y": "independent"}},
      "layer": [
        {
          "data": {"name": "fus"},
          "mark": {"type": "line", "color": "#1a1a1a", "strokeWidth": 1.2, "clip": true, "interpolate": "monotone"},
          "encoding": {
            "x": {"field": "R", "type": "quantitative", "scale": {"domain": [0, 6], "nice": false, "zero": false},
              "axis": {"orient": "bottom", "zindex": 2, "values": [0,0.25,0.5,0.75,1,1.25,1.5,1.75,2,2.25,2.5,2.75,3,3.25,3.5,3.75,4,4.25,4.5,4.75,5,5.25,5.5,5.75,6],
                "tickSize": {"condition": {"test": "datum.value % 1 === 0", "value": -21}, "value": -11},
                "labelOffset": {"condition": {"test": "datum.value === 6", "value": -8}, "value": 0},
                "labelExpr": "datum.value % 1 === 0 ? format(datum.value, 'd') : ''", "labelFontSize": 52, "labelBaseline": "alphabetic", "labelPadding": 81,
                "title": "R +\u00a0\u00a0\u00a0R (Å)", "titleFontSize": 52, "titleX": 410, "titleY": 110, "titleAlign": "center", "titleBaseline": "alphabetic"}},
            "y": {"field": "y", "type": "quantitative", "scale": {"domain": [0, 18], "nice": false, "zero": false},
              "axis": {"orient": "left", "zindex": 2, "values": [0,1,2,3,4,5,6,7,8,9,10,11,12,13,14,15,16,17,18],
                "tickSize": {"condition": {"test": "datum.value === 6 || datum.value === 14", "value": -21}, "value": -11},
                "labels": false,
                "title": "FT(k³\u00a0\u00a0)", "titleFontSize": 55, "titleX": -19, "titleY": 313, "titleAngle": -90, "titleAlign": "center", "titleBaseline": "alphabetic"}},
            "detail": {"field": "s"}
          }
        },
        {
          "data": {"name": "fls"},
          "mark": {"type": "line", "color": "#1a1a1a", "strokeWidth": 1.2, "clip": true, "interpolate": "monotone"},
          "encoding": {
            "x": {"field": "R", "type": "quantitative", "scale": {"domain": [0, 6], "nice": false, "zero": false},
              "axis": {"orient": "top", "zindex": 2, "values": [0,0.1154,0.2308,0.3462,0.4615,0.5769,0.6923,0.8077,0.9231,1.0385,1.1538,1.2692,1.3846,1.5,1.6154,1.7308,1.8462,1.9615,2.0769,2.1923,2.3077,2.4231,2.5385,2.6538,2.7692,2.8846,3,3.1154,3.2308,3.3462,3.4615,3.5769,3.6923,3.8077,3.9231,4.0385,4.1538,4.2692,4.3846,4.5,4.6154,4.7308,4.8462,4.9615,5.0769,5.1923,5.3077,5.4231,5.5385,5.6538,5.7692,5.8846,6],
                "tickSize": {"condition": {"test": "round(datum.value * 52 / 6) % 4 === 0", "value": -21}, "value": -11}, "labels": false, "title": null}},
            "y": {"field": "y", "type": "quantitative", "scale": {"domain": [0, 18], "nice": false, "zero": false},
              "axis": {"orient": "right", "zindex": 2, "values": [0,1.2,2.4,3.6,4.8,6,7.2,8.4,9.6,10.8,12,13.2,14.4,15.6,16.8,18],
                "tickSize": {"condition": {"test": "round(datum.value / 1.2) % 4 === 1", "value": -21}, "value": -11}, "labels": false, "title": null}},
            "detail": {"field": "s"}
          }
        },
        {
          "data": {"name": "fud"},
          "mark": {"type": "line", "color": "#1a1a1a", "strokeWidth": 1.2, "strokeDash": [5, 4], "clip": true, "interpolate": "monotone"},
          "encoding": {
            "x": {"field": "R", "type": "quantitative", "scale": {"domain": [0, 6], "nice": false, "zero": false}, "axis": null},
            "y": {"field": "y", "type": "quantitative", "scale": {"domain": [0, 18], "nice": false, "zero": false}, "axis": null},
            "detail": {"field": "s"}
          }
        },
        {
          "data": {"name": "fld"},
          "mark": {"type": "line", "color": "#1a1a1a", "strokeWidth": 1.2, "strokeDash": [5, 4], "clip": true, "interpolate": "monotone"},
          "encoding": {
            "x": {"field": "R", "type": "quantitative", "scale": {"domain": [0, 6], "nice": false, "zero": false}, "axis": null},
            "y": {"field": "y", "type": "quantitative", "scale": {"domain": [0, 18], "nice": false, "zero": false}, "axis": null},
            "detail": {"field": "s"}
          }
        },
        {
          "data": {"name": "ra_big"},
          "mark": {"type": "text", "align": "left", "baseline": "alphabetic", "fontSize": 53, "font": "Liberation Sans", "color": "#111111"},
          "encoding": {
            "x": {"field": "x", "type": "quantitative", "scale": {"domain": [0, 6], "nice": false, "zero": false}, "axis": null},
            "y": {"field": "y", "type": "quantitative", "scale": {"domain": [0, 18], "nice": false, "zero": false}, "axis": null},
            "text": {"field": "t"}
          }
        },
        {
          "data": {"name": "ra_sup"},
          "mark": {"type": "text", "align": "left", "baseline": "alphabetic", "fontSize": 34, "font": "Liberation Sans", "color": "#111111"},
          "encoding": {
            "x": {"field": "x", "type": "quantitative", "scale": {"domain": [0, 6], "nice": false, "zero": false}, "axis": null},
            "y": {"field": "y", "type": "quantitative", "scale": {"domain": [0, 18], "nice": false, "zero": false}, "axis": null},
            "text": {"field": "t"}
          }
        },
        {
          "data": {"name": "ra_small"},
          "mark": {"type": "text", "align": "left", "baseline": "alphabetic", "fontSize": 30, "font": "Liberation Sans", "color": "#111111"},
          "encoding": {
            "x": {"field": "x", "type": "quantitative", "scale": {"domain": [0, 6], "nice": false, "zero": false}, "axis": null},
            "y": {"field": "y", "type": "quantitative", "scale": {"domain": [0, 18], "nice": false, "zero": false}, "axis": null},
            "text": {"field": "t"}
          }
        },
        {
          "data": {"values": [{"t": "Fourier Transforms"}]},
          "mark": {"type": "text", "align": "center", "baseline": "alphabetic", "fontSize": 63, "font": "Liberation Sans", "color": "#1a1410"},
          "encoding": {
            "x": {"datum": 2.633, "type": "quantitative", "scale": {"domain": [0, 6], "nice": false, "zero": false}, "axis": null},
            "y": {"datum": 19.759, "type": "quantitative", "scale": {"domain": [0, 18], "nice": false, "zero": false}, "axis": null},
            "text": {"field": "t"}
          }
        },
        {
          "data": {"values": [{}]},
          "mark": {"type": "rule", "color": "#1a1410", "strokeWidth": 3},
          "encoding": {
            "x": {"datum": 0.708, "type": "quantitative", "scale": {"domain": [0, 6], "nice": false, "zero": false}, "axis": null},
            "x2": {"datum": 4.559},
            "y": {"datum": 19.569, "type": "quantitative", "scale": {"domain": [0, 18], "nice": false, "zero": false}, "axis": null}
          }
        }
      ]
    }
  ],
  "spacing": 291,
  "bounds": "flush"
}
